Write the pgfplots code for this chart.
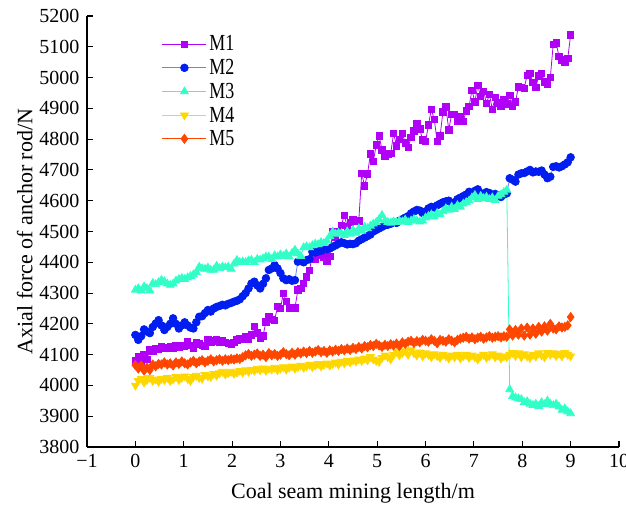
\documentclass[border=0pt]{standalone}
\usepackage{fontspec}
\setmainfont{Liberation Serif}
\newfontfamily\legfont[FakeStretch=0.78]{Liberation Serif}
\usepackage{pgfplots}
\usepackage{pgfplotstable}
\pgfplotsset{compat=1.18}
\definecolor{cM1}{RGB}{176,0,245}
\definecolor{cM2}{RGB}{0,30,240}
\definecolor{cM2l}{RGB}{110,130,245}
\definecolor{cM3}{RGB}{50,255,200}
\definecolor{cM4}{RGB}{255,215,0}
\definecolor{cM5}{RGB}{255,70,0}
\pgfplotstableread{
x m1 m2 m3 m4 m5
0.00 4080 4164 4310 4000 4066
0.06 4095 4148 4315 4015 4055
0.12 4080 4160 4308 4022 4065
0.18 4100 4182 4321 4010 4048
0.24 4085 4175 4315 4018 4058
0.30 4115 4170 4308 4025 4050
0.36 4110 4190 4332 4015 4068
0.42 4120 4201 4328 4020 4062
0.48 4118 4212 4335 4012 4070
0.54 4125 4195 4342 4022 4068
0.60 4122 4180 4338 4018 4075
0.66 4120 4190 4330 4025 4068
0.72 4126 4200 4326 4015 4072
0.78 4122 4218 4330 4020 4065
0.84 4128 4200 4340 4028 4075
0.90 4125 4185 4345 4018 4070
0.96 4130 4195 4348 4025 4078
1.02 4128 4205 4345 4030 4072
1.08 4142 4195 4350 4022 4068
1.14 4130 4188 4355 4015 4075
1.20 4122 4185 4360 4028 4080
1.26 4140 4205 4368 4032 4072
1.32 4135 4223 4385 4025 4078
1.38 4130 4225 4380 4022 4082
1.44 4128 4235 4378 4035 4075
1.50 4148 4245 4382 4030 4080
1.56 4140 4240 4375 4028 4085
1.62 4145 4250 4375 4038 4078
1.68 4148 4255 4388 4032 4082
1.74 4142 4258 4380 4040 4085
1.80 4145 4262 4385 4045 4080
1.86 4140 4260 4383 4036 4085
1.92 4137 4265 4385 4040 4082
1.98 4135 4268 4378 4045 4086
2.04 4140 4272 4395 4038 4084
2.10 4148 4275 4407 4042 4088
2.16 4153 4280 4400 4048 4086
2.22 4150 4290 4402 4042 4092
2.28 4158 4300 4400 4050 4098
2.34 4150 4315 4405 4045 4102
2.40 4164 4331 4407 4052 4096
2.46 4191 4337 4400 4048 4100
2.52 4170 4325 4410 4055 4104
2.58 4153 4315 4408 4050 4096
2.64 4161 4330 4412 4056 4100
2.70 4207 4348 4418 4048 4092
2.76 4223 4375 4418 4055 4105
2.82 4215 4380 4410 4052 4098
2.88 4212 4391 4422 4058 4102
2.94 4256 4380 4418 4050 4096
3.00 4250 4365 4425 4055 4100
3.06 4299 4348 4420 4060 4108
3.12 4272 4342 4428 4052 4102
3.18 4252 4345 4418 4058 4098
3.24 4252 4340 4430 4062 4106
3.30 4252 4342 4440 4055 4100
3.36 4310 4402 4428 4060 4108
3.42 4315 4405 4420 4065 4104
3.48 4331 4400 4448 4058 4110
3.54 4353 4407 4451 4062 4105
3.60 4373 4410 4448 4068 4112
3.66 4424 4434 4455 4060 4106
3.72 4411 4432 4460 4065 4110
3.78 4429 4435 4458 4070 4115
3.84 4424 4438 4465 4062 4108
3.90 4415 4440 4462 4068 4112
3.96 4402 4442 4470 4072 4106
4.02 4420 4445 4485 4065 4114
4.08 4499 4450 4499 4070 4110
4.14 4483 4455 4492 4075 4116
4.20 4499 4460 4495 4068 4112
4.26 4520 4465 4494 4078 4118
4.32 4553 4462 4488 4072 4114
4.38 4515 4458 4500 4080 4120
4.44 4530 4460 4492 4075 4115
4.50 4539 4459 4505 4082 4122
4.56 4532 4462 4495 4078 4118
4.62 4535 4470 4510 4085 4125
4.68 4689 4475 4502 4080 4120
4.74 4648 4480 4515 4088 4128
4.80 4687 4485 4510 4082 4124
4.86 4752 4490 4518 4093 4131
4.92 4727 4500 4525 4085 4128
4.98 4781 4505 4530 4080 4135
5.04 4810 4510 4540 4077 4130
5.10 4765 4515 4553 4090 4125
5.16 4743 4520 4535 4098 4132
5.22 4752 4522 4530 4092 4128
5.28 4754 4525 4528 4085 4134
5.34 4819 4530 4532 4100 4130
5.40 4778 4528 4530 4110 4136
5.46 4799 4535 4535 4098 4128
5.52 4819 4540 4532 4105 4140
5.58 4788 4545 4538 4112 4135
5.64 4773 4550 4530 4100 4142
5.70 4806 4559 4535 4115 4145
5.76 4827 4565 4540 4105 4138
5.82 4849 4570 4535 4098 4144
5.88 4833 4568 4532 4108 4140
5.94 4797 4560 4535 4095 4148
6.00 4792 4565 4545 4105 4145
6.06 4846 4575 4550 4100 4142
6.12 4897 4580 4555 4092 4150
6.18 4864 4578 4548 4102 4145
6.24 4793 4585 4560 4096 4137
6.30 4810 4590 4555 4090 4148
6.36 4889 4595 4565 4100 4145
6.42 4905 4598 4575 4095 4142
6.48 4830 4600 4570 4088 4150
6.54 4881 4590 4580 4098 4145
6.60 4881 4595 4572 4092 4140
6.66 4857 4605 4585 4100 4148
6.72 4873 4610 4580 4088 4152
6.78 4857 4615 4590 4095 4155
6.84 4892 4620 4595 4100 4158
6.90 4907 4629 4600 4090 4152
6.96 4959 4625 4610 4098 4156
7.02 4921 4632 4618 4092 4150
7.08 4974 4637 4605 4085 4155
7.14 4938 4625 4615 4095 4158
7.20 4956 4620 4608 4100 4152
7.26 4916 4628 4612 4090 4156
7.32 4946 4625 4605 4095 4160
7.38 4897 4618 4610 4102 4155
7.44 4936 4622 4602 4092 4158
7.50 4918 4618 4615 4098 4160
7.56 4907 4612 4620 4088 4156
7.62 4929 4620 4628 4095 4160
7.68 4914 4624 4635 4092 4158
7.74 4943 4673 3987 4100 4182
7.80 4907 4668 3965 4106 4162
7.86 4921 4662 3960 4096 4180
7.92 4970 4685 3958 4105 4165
7.98 4968 4689 3955 4092 4185
8.04 4965 4690 3945 4102 4162
8.10 5008 4695 3948 4095 4188
8.16 5013 4700 3940 4090 4165
8.22 4984 4692 3936 4100 4185
8.28 4968 4695 3940 4094 4168
8.34 5005 4694 3932 4105 4190
8.40 5013 4698 3945 4098 4175
8.46 4986 4685 3938 4092 4192
8.52 4979 4673 3950 4106 4178
8.58 5001 4678 3940 4100 4200
8.64 5108 4710 3935 4105 4185
8.70 5113 4712 3940 4096 4182
8.76 5068 4708 3931 4104 4192
8.82 5057 4712 3920 4095 4188
8.88 5051 4718 3925 4106 4190
8.94 5062 4725 3915 4100 4195
9.00 5138 4741 3909 4095 4222
}\datatable
\begin{document}
\begin{tikzpicture}
\begin{axis}[
  scale only axis, width=532pt, height=431pt,
  xmin=-1, xmax=10, ymin=3800, ymax=5200,
  xtick={-1,0,1,2,3,4,5,6,7,8,9,10},
  xticklabels={−1,0,1,2,3,4,5,6,7,8,9,10},
  ytick={3800,3900,4000,4100,4200,4300,4400,4500,4600,4700,4800,4900,5000,5100,5200},
  yticklabels={3800,3900,4000,4100,4200,4300,4400,4500,4600,4700,4800,4900,5000,5100,5200},
  axis lines*=left,
  axis line style={line width=1.3pt, black},
  tick align=inside, major tick length=6pt,
  tick style={line width=1.1pt, black},
  tick label style={font=\fontsize{20}{22}\selectfont},
  xticklabel style={yshift=-4pt},
  yticklabel style={xshift=-4pt},
  xlabel={Coal seam mining length/m},
  ylabel={Axial force of anchor rod/N},
  label style={font=\fontsize{22}{26}\selectfont},
  xlabel style={yshift=-8pt},
  every axis plot/.append style={legend image code/.code={\draw[mark repeat=2,mark phase=2] plot coordinates {(0pt,0pt) (22pt,0pt) (44pt,0pt)};}},
  legend style={at={(0.135,0.965)}, anchor=north west, draw=none, fill=none,
    font=\legfont\fontsize{23}{24}\selectfont, row sep=2pt,
    nodes={inner sep=2.5pt}, /tikz/column 2/.style={column sep=8pt}},
  legend cell align=left,
  clip=false,
]
\addplot[color=cM1, line width=0.8pt, mark=square*, mark size=3.2pt, mark options={fill=cM1, draw=cM1, solid}] table[x=x,y=m1]{\datatable};
\addplot[color=cM2l, line width=0.8pt, mark=*, mark size=3.8pt, mark options={fill=cM2, draw=cM2, solid}] table[x=x,y=m2]{\datatable};
\addplot[color=cM3, line width=0.8pt, mark=triangle*, mark size=4.5pt, mark options={fill=cM3, draw=cM3, solid}] table[x=x,y=m3]{\datatable};
\addplot[color=cM4, line width=0.8pt, mark=triangle*, mark size=4.5pt, mark options={fill=cM4, draw=cM4, solid, rotate=180}] table[x=x,y=m4]{\datatable};
\addplot[color=cM5, line width=0.8pt, mark=diamond*, mark size=4.5pt, mark options={fill=cM5, draw=cM5, solid}] table[x=x,y=m5]{\datatable};
\legend{M1,M2,M3,M4,M5}
\coordinate (bl) at (rel axis cs:0,0);
\coordinate (tr) at (rel axis cs:1,1);
\end{axis}
\pgfresetboundingbox
\path[use as bounding box] ([xshift=-87pt,yshift=-60pt]bl) rectangle ([xshift=7pt,yshift=16pt]tr);
\end{tikzpicture}
\end{document}
